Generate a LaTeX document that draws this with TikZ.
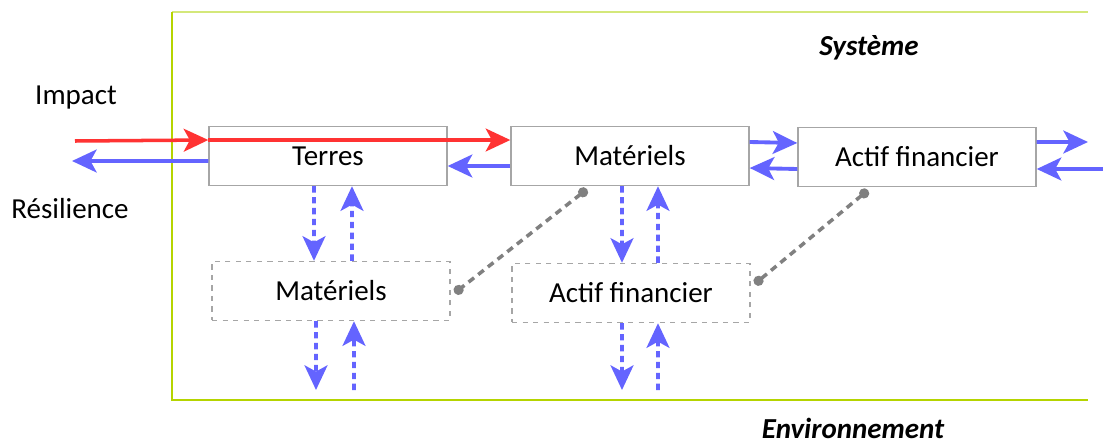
\documentclass[tikz,border=0pt]{standalone}
\usepackage{fontspec}
\setmainfont{Carlito}
\usepackage{xcolor}
\usetikzlibrary{arrows.meta}
\definecolor{bleu}{HTML}{6464FF}
\definecolor{rouge}{HTML}{FF3333}
\definecolor{cadre}{HTML}{A6A6A6}
\definecolor{liaison}{HTML}{808080}
\definecolor{vertclair}{HTML}{D4E87A}
\definecolor{vert}{HTML}{B5D400}

\begin{document}
\begin{tikzpicture}[x=0.02cm, y=-0.02cm,
  every node/.style={font=\fontsize{16.5}{20}\selectfont},
  bloc/.style={draw=cadre, line width=0.8pt, minimum width=4.76cm, minimum height=1.18cm, inner sep=0pt},
  blocbas/.style={bloc, dashed},
  fleche/.style={-{Stealth[length=14pt, width=13pt, inset=3.5pt]}},
  flux/.style={fleche, bleu, line width=2.2pt},
  fluxpt/.style={flux, dash pattern=on 3.6pt off 2.6pt},
  impact/.style={fleche, rouge, line width=2pt},
  lien/.style={{Circle[length=0.2cm]}-{Circle[length=0.2cm]}, liaison, line width=2pt, dash pattern=on 4pt off 3pt}]
\useasboundingbox (0,0) rectangle (1103,443);
% cadre du systeme
\draw[vertclair, line width=1.6pt] (172,12) -- (1088,12);
\draw[vert, line width=1.6pt] (172,12) -- (172,400) -- (1088,400);
\node[font=\fontsize{16.5}{20}\selectfont\bfseries\itshape] (Systeme) at (869,48) {Système};
\node[font=\fontsize{16.5}{20}\selectfont\bfseries\itshape] (Environnement) at (853,428) {Environnement};
% blocs
\node[bloc] (terres) at (328,156) {Terres};
\node[bloc] (materiels) at (630,156) {Matériels};
\node[bloc] (actif) at (917,157) {Actif financier};
\node[blocbas] (materielsbas) at (331,291) {Matériels};
\node[blocbas] (actifbas) at (631,293) {Actif financier};
\node (Impact) at (76,98) {Impact};
\node (Resilience) at (70,209) {Résilience};
% extremites libres
\coordinate (impactin) at (75,141);
\coordinate (resout) at (72,161);
\coordinate (actifout) at (1088,142);
\coordinate (actifin) at (1103,169);
\coordinate (bas1) at (316,390);
\coordinate (bas2) at (354,390);
\coordinate (bas3) at (622,390);
\coordinate (bas4) at (658,390);
% impact
\draw[impact] (impactin) -- ([yshift=0.32cm]terres.west);
\draw[impact] ([yshift=0.32cm]terres.west) -- ([yshift=0.32cm]materiels.west);
% resilience
\draw[flux] ([yshift=-0.1cm]terres.west) -- (resout);
\draw[flux] ([yshift=-0.2cm]materiels.west) -- ([yshift=-0.2cm]terres.east);
\draw[flux] ([yshift=0.28cm]materiels.east) -- ([yshift=0.28cm]actif.west);
\draw[flux] ([yshift=-0.24cm]actif.west) -- ([yshift=-0.24cm]materiels.east);
\draw[flux] ([yshift=0.3cm]actif.east) -- (actifout);
\draw[flux] (actifin) -- ([yshift=-0.24cm]actif.east);
% echanges verticaux
\draw[fluxpt] ([xshift=-0.28cm]terres.south) -- ([xshift=-0.34cm]materielsbas.north);
\draw[fluxpt] ([xshift=0.42cm]materielsbas.north) -- ([xshift=0.48cm]terres.south);
\draw[fluxpt] ([xshift=-0.3cm]materielsbas.south) -- (bas1);
\draw[fluxpt] (bas2) -- ([xshift=0.46cm]materielsbas.south);
\draw[fluxpt] ([xshift=-0.16cm]materiels.south) -- ([xshift=-0.18cm]actifbas.north);
\draw[fluxpt] ([xshift=0.54cm]actifbas.north) -- ([xshift=0.56cm]materiels.south);
\draw[fluxpt] ([xshift=-0.18cm]actifbas.south) -- (bas3);
\draw[fluxpt] (bas4) -- ([xshift=0.54cm]actifbas.south);
% liens
\draw[lien] ([xshift=-0.86cm, yshift=-0.06cm]materiels.south) -- ([xshift=0.08cm, yshift=-0.04cm]materielsbas.east);
\draw[lien] ([xshift=-0.98cm, yshift=-0.06cm]actif.south) -- ([xshift=0.08cm, yshift=0.18cm]actifbas.east);
\end{tikzpicture}
\end{document}
